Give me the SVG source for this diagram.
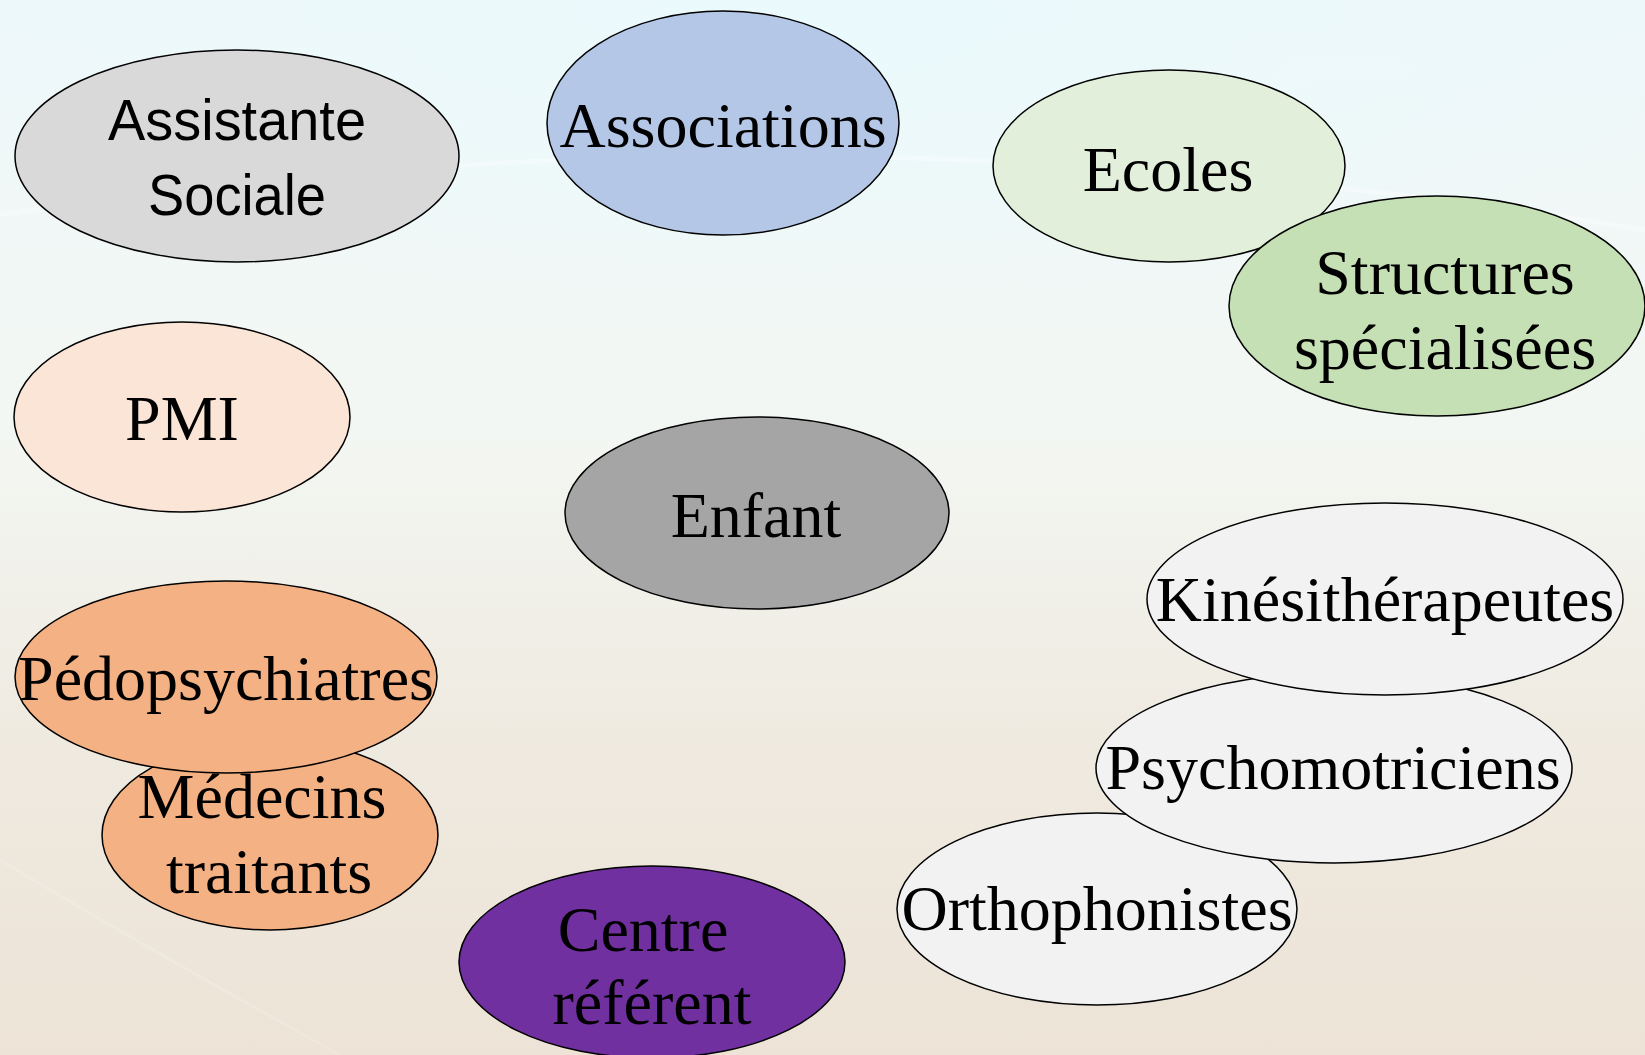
<svg xmlns="http://www.w3.org/2000/svg" width="1645" height="1055" viewBox="0 0 1645 1055">
<defs>
<linearGradient id="bg" x1="0" y1="0" x2="0" y2="1">
<stop offset="0" stop-color="#eef8fa"/>
<stop offset="0.4" stop-color="#f3f7f3"/>
<stop offset="0.7" stop-color="#efeae0"/>
<stop offset="1" stop-color="#ede3d7"/>
</linearGradient>
<radialGradient id="glow" cx="0.5" cy="0.05" r="0.6">
<stop offset="0" stop-color="#eafafc" stop-opacity="0.9"/>
<stop offset="1" stop-color="#eafafc" stop-opacity="0"/>
</radialGradient>
<style>
.n ellipse{stroke:#000;stroke-width:1.5}
.t{font-family:"Liberation Serif","Times New Roman",serif;font-size:64px;fill:#000;text-anchor:middle}
.s{font-family:"Liberation Sans",Arial,sans-serif;font-size:58px;fill:#000;text-anchor:middle}
</style>
</defs>
<rect width="1645" height="1055" fill="url(#bg)"/>
<rect width="1645" height="500" fill="url(#glow)"/>
<path d="M0,215 Q800,90 1645,230" fill="none" stroke="#ffffff" stroke-width="5" stroke-opacity="0.3"/>
<path d="M0,860 Q150,950 340,1055" fill="none" stroke="#ffffff" stroke-width="3" stroke-opacity="0.15"/>
<g id="connectors"/>
<g id="assistante-sociale" class="n">
<ellipse cx="237" cy="156" rx="222" ry="106" fill="#d9d9d9"/>
<text class="s" x="237" y="140" textLength="258" lengthAdjust="spacingAndGlyphs">Assistante</text>
<text class="s" x="237" y="215" textLength="178" lengthAdjust="spacingAndGlyphs">Sociale</text>
</g>
<g id="associations" class="n">
<ellipse cx="723" cy="123" rx="176" ry="112" fill="#b4c7e7"/>
<text class="t" x="723" y="147">Associations</text>
</g>
<g id="ecoles" class="n">
<ellipse cx="1169" cy="166" rx="176" ry="96" fill="#e2efda"/>
<text class="t" x="1168" y="191">Ecoles</text>
</g>
<g id="structures-specialisees" class="n">
<ellipse cx="1437" cy="306" rx="208" ry="110" fill="#c5e0b4"/>
<text class="t" x="1445" y="294">Structures</text>
<text class="t" x="1445" y="369">spécialisées</text>
</g>
<g id="pmi" class="n">
<ellipse cx="182" cy="417" rx="168" ry="95" fill="#fbe5d6"/>
<text class="t" x="182" y="440">PMI</text>
</g>
<g id="enfant" class="n">
<ellipse cx="757" cy="513" rx="192" ry="96" fill="#a5a5a5"/>
<text class="t" x="756" y="537">Enfant</text>
</g>
<g id="medecins-traitants" class="n">
<ellipse cx="270" cy="835" rx="168" ry="95" fill="#f4b183"/>
<text class="t" x="262" y="818">Médecins</text>
<text class="t" x="269" y="893">traitants</text>
</g>
<g id="pedopsychiatres" class="n">
<ellipse cx="226" cy="677" rx="211" ry="96" fill="#f4b183"/>
<text class="t" x="226" y="700">Pédopsychiatres</text>
</g>
<g id="centre-referent" class="n">
<ellipse cx="652" cy="962" rx="193" ry="96" fill="#7030a0"/>
<text class="t" x="643" y="951">Centre</text>
<text class="t" x="652" y="1024">référent</text>
</g>
<g id="orthophonistes" class="n">
<ellipse cx="1097" cy="909" rx="200" ry="96" fill="#f2f2f2"/>
<text class="t" x="1097" y="930">Orthophonistes</text>
</g>
<g id="psychomotriciens" class="n">
<ellipse cx="1334" cy="768" rx="238" ry="95" fill="#f2f2f2"/>
<text class="t" x="1333" y="789">Psychomotriciens</text>
</g>
<g id="kinesitherapeutes" class="n">
<ellipse cx="1385" cy="599" rx="238" ry="96" fill="#f2f2f2"/>
<text class="t" x="1385" y="621">Kinésithérapeutes</text>
</g>
</svg>
